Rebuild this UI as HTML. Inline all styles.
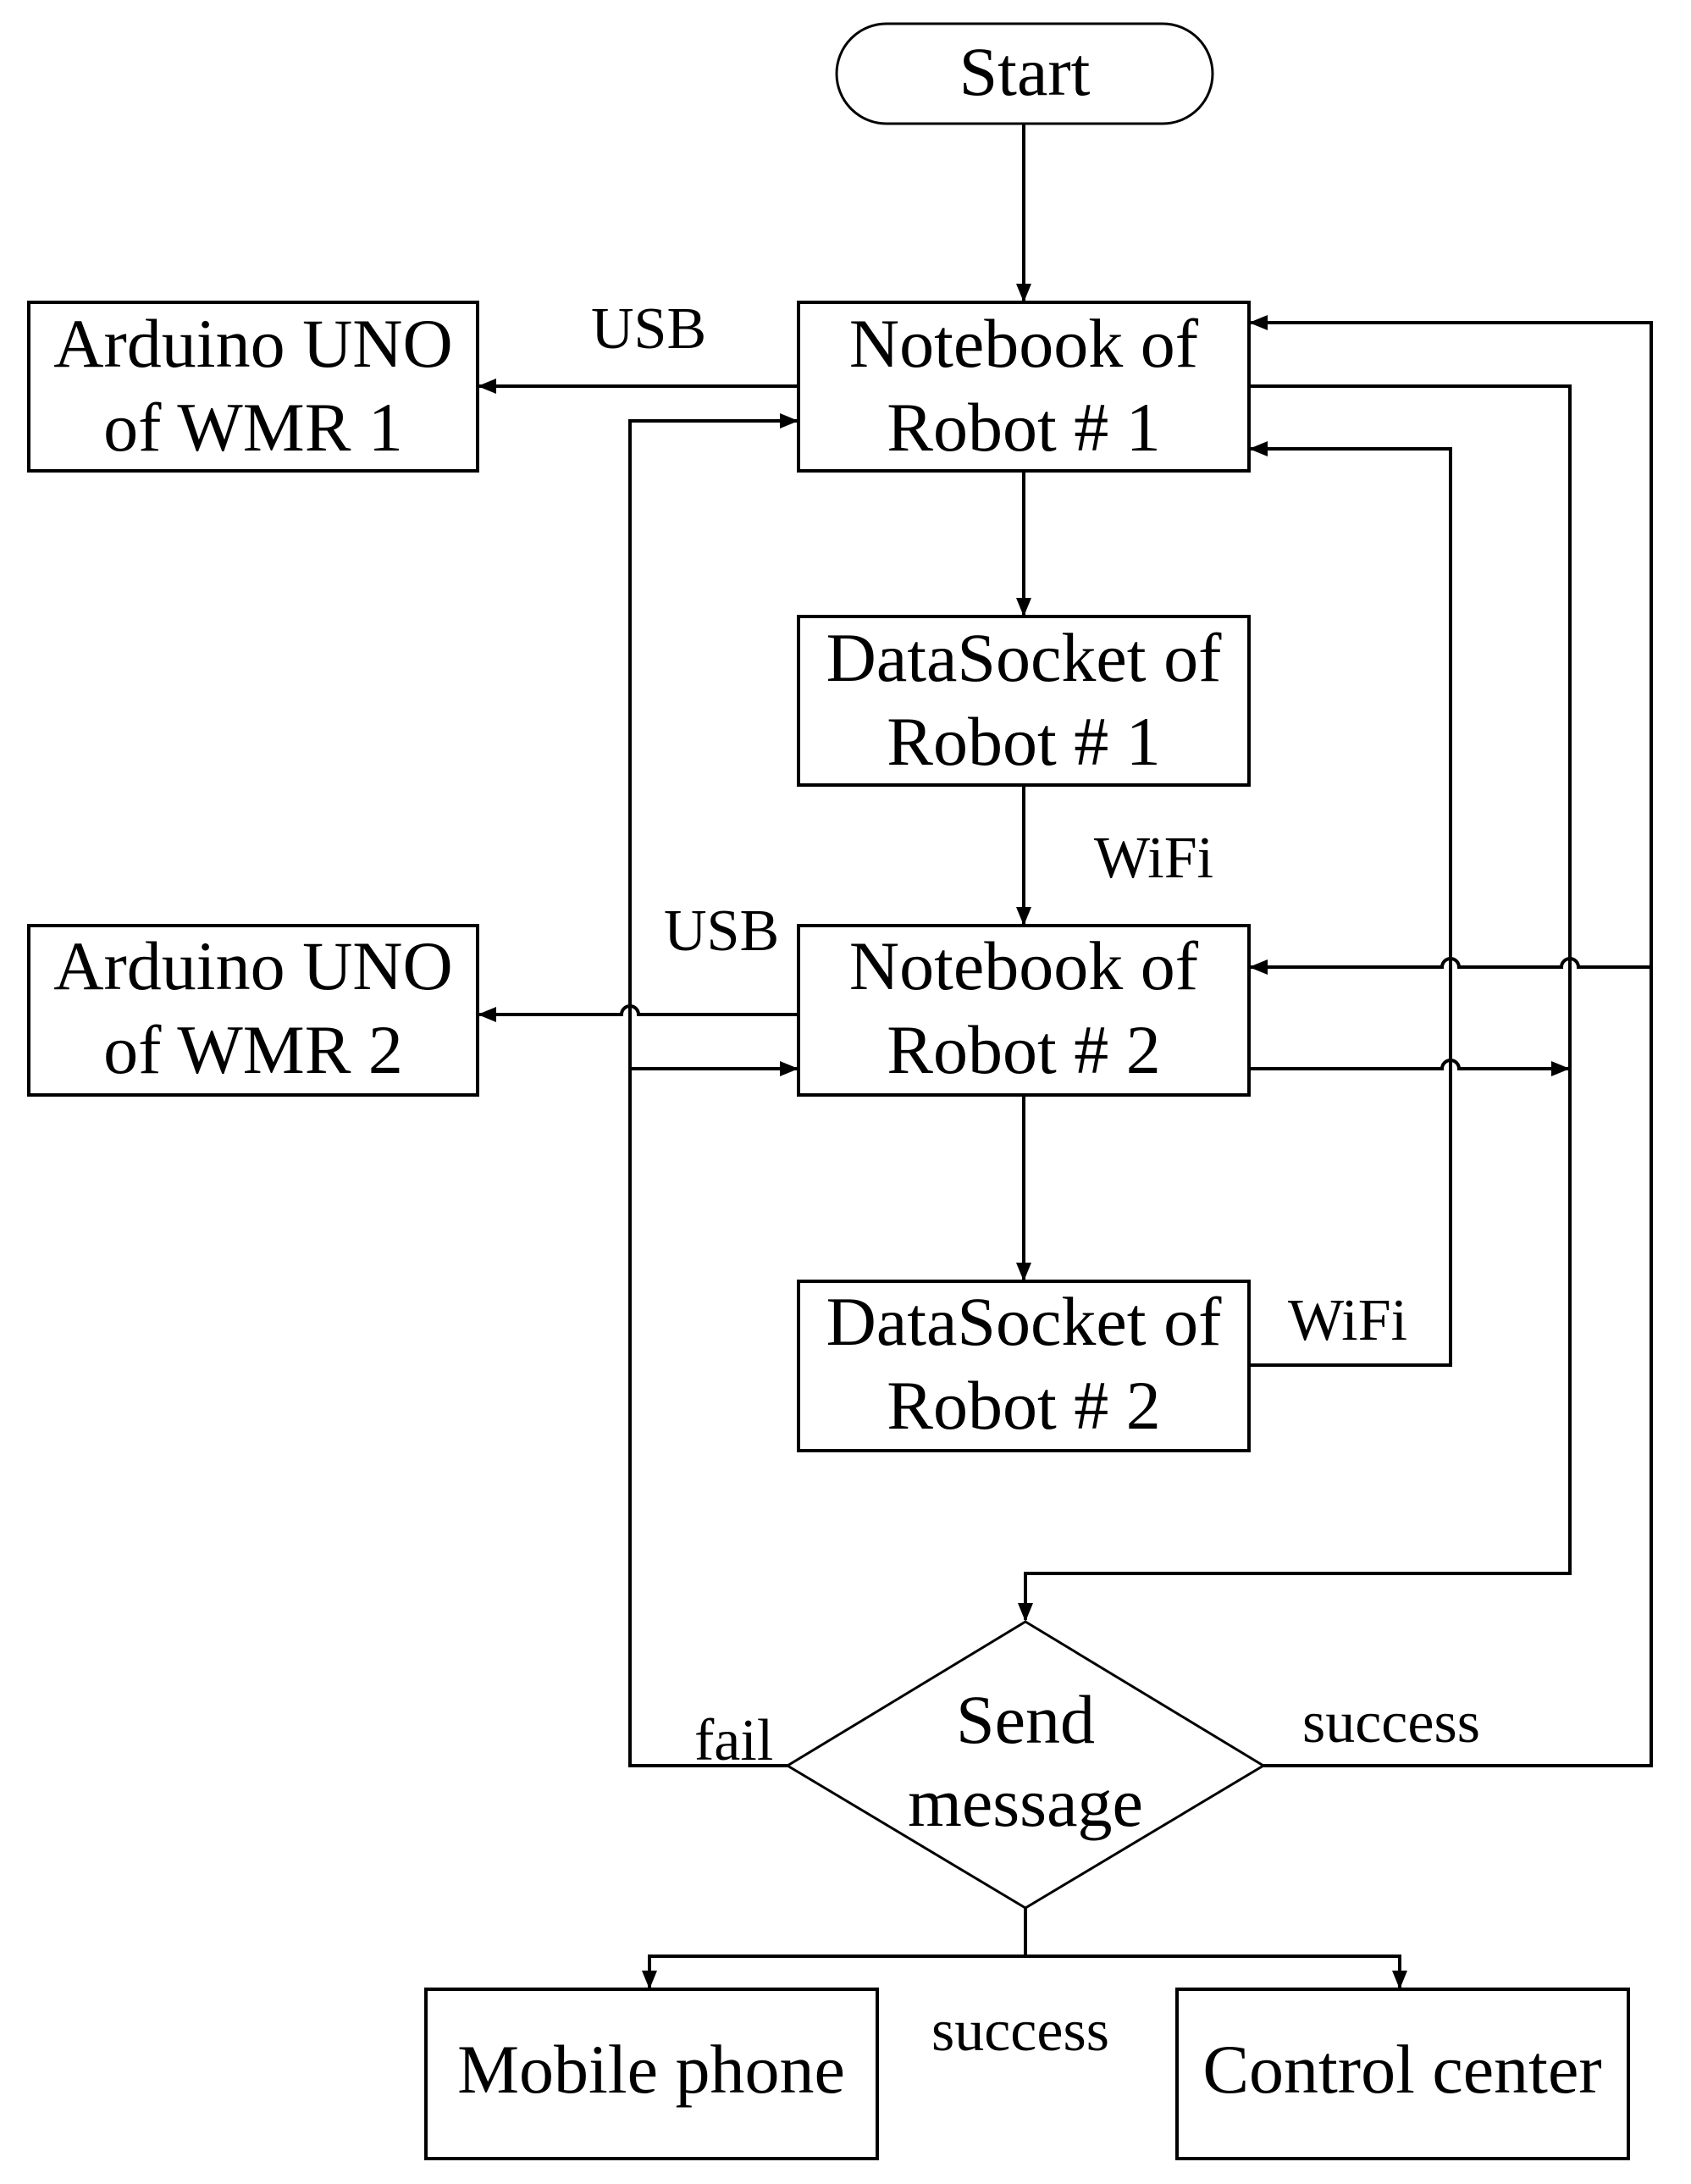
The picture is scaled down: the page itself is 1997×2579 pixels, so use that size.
<!DOCTYPE html>
<html><head><meta charset="utf-8"><style>
html,body{margin:0;padding:0;background:#fff;}
svg{display:block;}
text{font-family:"Liberation Serif",serif;fill:#000;}
.b{font-size:82px;text-anchor:middle;}
.l{font-size:70px;}
</style></head><body>
<svg width="1997" height="2579" viewBox="0 0 1997 2579" xmlns="http://www.w3.org/2000/svg">
<defs>
<marker id="a" markerWidth="22" markerHeight="18" refX="20" refY="9" orient="auto" markerUnits="userSpaceOnUse" viewBox="0 0 22 18">
<path d="M0,0 L22,9 L0,18 z" fill="#000"/>
</marker>
</defs>
<g fill="none" stroke="#000" stroke-width="4">
<rect x="988" y="28" width="444" height="118" rx="59" ry="59" stroke-width="3"/>
<rect x="943" y="357" width="532" height="199"/>
<rect x="34" y="357" width="530" height="199"/>
<rect x="943" y="728" width="532" height="199"/>
<rect x="943" y="1093" width="532" height="200"/>
<rect x="34" y="1093" width="530" height="200"/>
<rect x="943" y="1513" width="532" height="200"/>
<rect x="503" y="2349" width="533" height="200"/>
<rect x="1390" y="2349" width="533" height="200"/>
<path d="M1211,1915 L1492,2085 L1211,2253 L930,2085 Z" stroke-width="3"/>
<line x1="1209" y1="146" x2="1209" y2="355" marker-end="url(#a)"/>
<line x1="1209" y1="556" x2="1209" y2="726" marker-end="url(#a)"/>
<line x1="1209" y1="927" x2="1209" y2="1091" marker-end="url(#a)"/>
<line x1="1209" y1="1293" x2="1209" y2="1511" marker-end="url(#a)"/>
<line x1="943" y1="456" x2="566" y2="456" marker-end="url(#a)"/>
<path d="M943,1198 L754,1198 a10,10 0 0 0 -20,0 L566,1198" marker-end="url(#a)"/>
<path d="M930,2085 L744,2085 L744,497 L941,497" marker-end="url(#a)"/>
<line x1="744" y1="1262" x2="941" y2="1262" marker-end="url(#a)"/>
<path d="M1492,2085 L1950,2085 L1950,381 L1477,381" marker-end="url(#a)"/>
<path d="M1950,1142 L1864,1142 a10,10 0 0 0 -20,0 L1723,1142 a10,10 0 0 0 -20,0 L1477,1142" marker-end="url(#a)"/>
<path d="M1475,456 L1854,456 L1854,1858 L1211,1858 L1211,1913" marker-end="url(#a)"/>
<path d="M1475,1262 L1703,1262 a10,10 0 0 1 20,0 L1852,1262" marker-end="url(#a)"/>
<path d="M1475,1612 L1713,1612 L1713,530 L1477,530" marker-end="url(#a)"/>
<line x1="1211" y1="2253" x2="1211" y2="2310"/>
<path d="M767,2330 L767,2310 L1653,2310 L1653,2330"/>
<line x1="767" y1="2320" x2="767" y2="2347" marker-end="url(#a)"/>
<line x1="1653" y1="2320" x2="1653" y2="2347" marker-end="url(#a)"/>
</g>
<text class="b" x="1210" y="112">Start</text>
<text class="b" x="1209" y="433">Notebook of</text>
<text class="b" x="1209" y="532">Robot # 1</text>
<text class="b" x="299" y="433">Arduino UNO</text>
<text class="b" x="299" y="532">of WMR 1</text>
<text class="b" x="1209" y="804">DataSocket of</text>
<text class="b" x="1209" y="903">Robot # 1</text>
<text class="b" x="1209" y="1168">Notebook of</text>
<text class="b" x="1209" y="1267">Robot # 2</text>
<text class="b" x="299" y="1168">Arduino UNO</text>
<text class="b" x="299" y="1267">of WMR 2</text>
<text class="b" x="1209" y="1588">DataSocket of</text>
<text class="b" x="1209" y="1687">Robot # 2</text>
<text class="b" x="1211" y="2058">Send</text>
<text class="b" x="1211" y="2156">message</text>
<text class="b" x="769" y="2471">Mobile phone</text>
<text class="b" x="1656" y="2471">Control center</text>
<text class="l" x="698" y="411">USB</text>
<text class="l" x="784" y="1122">USB</text>
<text class="l" x="1292" y="1036">WiFi</text>
<text class="l" x="1521" y="1582">WiFi</text>
<text class="l" x="820" y="2078">fail</text>
<text class="l" x="1538" y="2057">success</text>
<text class="l" x="1100" y="2421">success</text>
</svg>
</body></html>
